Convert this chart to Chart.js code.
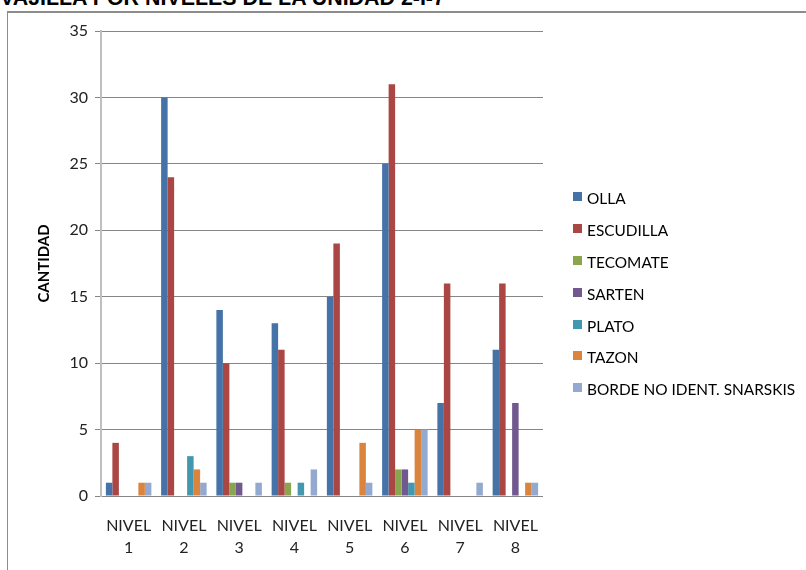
<!DOCTYPE html>
<html>
<head>
<meta charset="utf-8">
<script src="https://cdn.jsdelivr.net/npm/chart.js@4.4.1/dist/chart.umd.min.js"></script>
<style>
  html, body { margin: 0; padding: 0; background: #fff; }
  #wrap { position: relative; width: 806px; height: 570px; overflow: hidden; }
  #frame { position: absolute; left: 7px; top: 11px; width: 900px; height: 700px; border: 1px solid #8c8c8c; border-width: 2px 0 0 1px; }
  #title { position: absolute; left: 0; top: -12px; font: bold 21.4px "Liberation Sans", Arial, sans-serif; line-height: 21.4px; white-space: nowrap; color: #000; }
  #chart { position: absolute; left: 0; top: 0; }
  #legend { position: absolute; left: 573px; top: 189px; font: 15.4px Lato, sans-serif; color: #000; }
  .item { height: 31.9px; display: flex; align-items: flex-start; }
  .box { width: 9px; height: 9px; margin-top: 3px; margin-right: 5px; }
</style>
</head>
<body>
<div id="wrap">
  <div id="frame"></div>
  <div id="title">VAJILLA POR NIVELES DE LA UNIDAD 2-I-7</div>
  <canvas id="chart" width="806" height="570"></canvas>
  <div id="legend"></div>
</div>
<script>
// ── Data ───────────────────────────────────────────
const niveles = [['NIVEL', '1'], ['NIVEL', '2'], ['NIVEL', '3'], ['NIVEL', '4'],
                 ['NIVEL', '5'], ['NIVEL', '6'], ['NIVEL', '7'], ['NIVEL', '8']];

const olla      = [1, 30, 14, 13, 15, 25, 7, 11];
const escudilla = [4, 24, 10, 11, 19, 31, 16, 16];
const tecomate  = [0, 0, 1, 1, 0, 2, 0, 0];
const sarten    = [0, 0, 1, 0, 0, 2, 0, 7];
const plato     = [0, 3, 0, 1, 0, 1, 0, 0];
const tazon     = [1, 2, 0, 0, 4, 5, 0, 1];
const borde     = [1, 1, 1, 2, 1, 5, 1, 1];

const yTicks = [0, 5, 10, 15, 20, 25, 30, 35];

const series = [
  { label: 'OLLA', data: olla, color: '#4572A7' },
  { label: 'ESCUDILLA', data: escudilla, color: '#AA4643' },
  { label: 'TECOMATE', data: tecomate, color: '#89A54E' },
  { label: 'SARTEN', data: sarten, color: '#71588F' },
  { label: 'PLATO', data: plato, color: '#4198AF' },
  { label: 'TAZON', data: tazon, color: '#DB843D' },
  { label: 'BORDE NO IDENT. SNARSKIS', data: borde, color: '#93A9CF' },
];

// ── Legend ─────────────────────────────────────────
document.getElementById('legend').innerHTML = series.map(s => `
  <div class="item"><div class="box" style="background:${s.color}"></div><div>${s.label}</div></div>
`).join('');

// ── Chart ──────────────────────────────────────────
const tickFont = { family: 'Lato', size: 16 };

new Chart(document.getElementById('chart'), {
  type: 'bar',
  data: {
    labels: niveles,
    datasets: series.map(s => ({
      label: s.label,
      data: s.data,
      backgroundColor: s.color,
      borderWidth: 0,
      categoryPercentage: 7 / 8.5,
      barPercentage: 1,
    })),
  },
  options: {
    responsive: false,
    animation: false,
    layout: { padding: { left: 8, top: 31, right: 263, bottom: 0 } },
    plugins: { legend: { display: false }, tooltip: { enabled: false } },
    scales: {
      x: {
        grid: { display: false, drawTicks: false },
        border: { display: false },
        ticks: { color: '#222', font: { ...tickFont, lineHeight: 1.375 }, padding: 19, maxRotation: 0 },
        afterFit: s => { s.height = 74; },
      },
      y: {
        min: 0,
        max: 35,
        afterBuildTicks: s => { s.ticks = yTicks.map(v => ({ value: v })); },
        grid: { color: '#868686', lineWidth: 1, tickLength: 6, drawTicks: true },
        border: { color: '#BFBFBF', width: 2 },
        ticks: { color: '#222', font: tickFont, padding: 7 },
        title: {
          display: true,
          text: 'CANTIDAD',
          color: '#000',
          font: { family: 'Lato', size: 15, weight: 'bold' },
          padding: { top: 27, bottom: 0 },
        },
        afterFit: s => { s.width = 93; },
      },
    },
  },
});
</script>
</body>
</html>
